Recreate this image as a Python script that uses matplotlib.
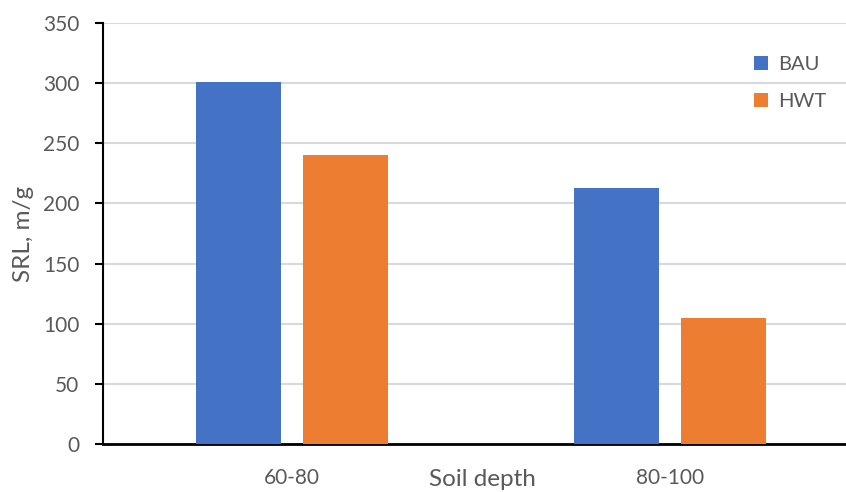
import matplotlib
matplotlib.use("Agg")
import matplotlib.pyplot as plt
import numpy as np

# Specific root length by soil depth and treatment
depths = ["60-80", "80-100"]
series = ["BAU", "HWT"]
bau = [301, 213]
hwt = [240, 105]
yticks = [0, 50, 100, 150, 200, 250, 300, 350]

colors = {"BAU": "#4472C4", "HWT": "#ED7D31"}
text_color = "#595959"

plt.rcParams["font.family"] = ["Lato", "DejaVu Sans"]

fig = plt.figure(figsize=(8.46, 4.92), dpi=100)
ax = fig.add_axes([103 / 846, 1 - 444 / 492, 743 / 846, 421 / 492])

x = np.arange(len(depths))
width = 0.225
offset = 0.142
ax.bar(x - offset, bau, width, color=colors["BAU"], label="BAU", zorder=3)
ax.bar(x + offset, hwt, width, color=colors["HWT"], label="HWT", zorder=3)

ax.set_xlim(-0.5, 1.466)
ax.set_ylim(0, 350)
ax.set_yticks(yticks)
ax.set_yticklabels([str(v) for v in yticks])
ax.set_xticks(x)
ax.set_xticklabels(depths)

ax.grid(axis="y", color="#d9d9d9", linewidth=1.5, zorder=0)
ax.set_axisbelow(True)

for side in ("top", "right"):
    ax.spines[side].set_visible(False)
ax.spines["left"].set_color("black")
ax.spines["left"].set_linewidth(1.5)
ax.spines["bottom"].set_color("black")
ax.spines["bottom"].set_linewidth(2)

ax.tick_params(axis="y", direction="out", length=6, width=1.5, color="black",
               labelsize=15, labelcolor=text_color, pad=11)
ax.tick_params(axis="x", length=0, labelsize=15, labelcolor=text_color, pad=17)

fig.text(23 / 846, 1 - 234 / 492, "SRL, m/g", fontsize=17.5, color=text_color,
         ha="center", va="center", rotation=90)
fig.text(482 / 846, 1 - 479 / 492, "Soil depth", fontsize=17.5, color=text_color,
         ha="center", va="center")

leg = ax.legend(loc="upper right", bbox_to_anchor=(0.998, 0.965), frameon=False,
                fontsize=14.5, handlelength=0.7, handleheight=0.7,
                handletextpad=0.5, labelspacing=1.0, labelcolor=text_color)

fig.savefig("out.png", dpi=100)
